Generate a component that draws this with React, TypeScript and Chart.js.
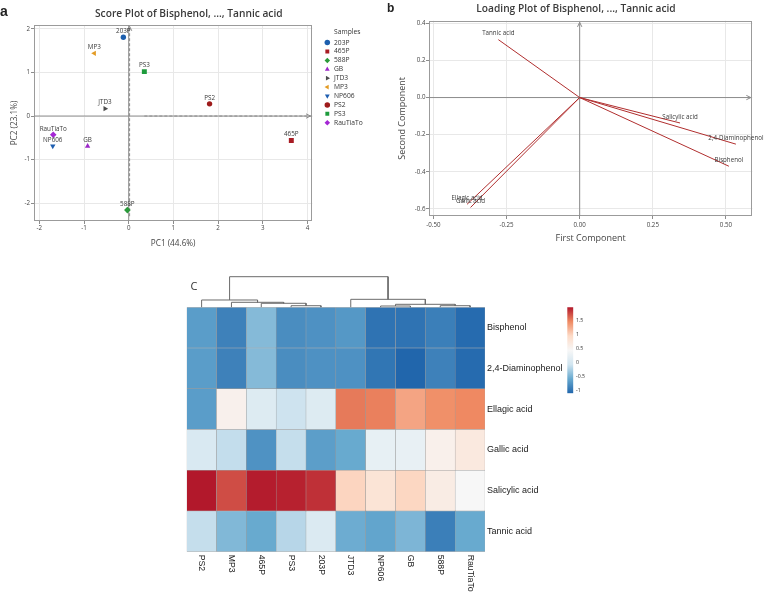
import React, { useEffect, useRef } from 'react';
import { Chart, registerables } from 'chart.js';

Chart.register(...registerables);

const SANS = "'Open Sans', 'Noto Sans', sans-serif";
const ARIAL = "'Liberation Sans', Arial, sans-serif";

// ---------- Panel a: score plot ----------
const sampleNames = ['203P', '465P', '588P', 'GB', 'JTD3', 'MP3', 'NP606', 'PS2', 'PS3', 'RauTiaTo'];
const pc1Scores = [-0.12, 3.64, -0.03, -0.92, -0.53, -0.77, -1.7, 1.81, 0.35, -1.69];
const pc2Scores = [1.81, -0.56, -2.16, -0.69, 0.17, 1.44, -0.69, 0.28, 1.02, -0.43];
const scoreXTicks = [-2, -1, 0, 1, 2, 3, 4];
const scoreYTicks = [-2, -1, 0, 1, 2];
const scoreXLimits = [-2.12, 4.11];
const scoreYLimits = [-2.41, 2.09];
const scorePC1Arrow = [0.35, 4.07];
const scorePC2Arrow = [-2.3, 2.06];

const sampleColors = ['#1d5fae', '#a81c24', '#2a9a3a', '#9c27c8', '#4d4d4d', '#e39b24', '#1e5eb0', '#9e1b1b', '#1e9b3c', '#a426d4'];
const sampleShapes = ['circle', 'rect', 'rectRot', 'triangle', 'triangle', 'triangle', 'triangle', 'circle', 'rect', 'rectRot'];
const sampleRotations = [0, 0, 0, 0, 90, -90, 180, 0, 0, 0];
const shapeRadius: Record<string, number> = { circle: 2.7, rect: 3.5, rectRot: 3.3, triangle: 3.1 };

// ---------- Panel b: loading plot ----------
const variableNames = ['Bisphenol', '2,4-Diaminophenol', 'Ellagic acid', 'Gallic acid', 'Salicylic acid', 'Tannic acid'];
const pc1Loadings = [0.51, 0.534, -0.385, -0.373, 0.343, -0.278];
const pc2Loadings = [-0.37, -0.251, -0.575, -0.592, -0.137, 0.312];
const loadXTicks = [-0.5, -0.25, 0, 0.25, 0.5];
const loadYTicks = [-0.6, -0.4, -0.2, 0, 0.2, 0.4];
const loadXLimits = [-0.515, 0.59];
const loadYLimits = [-0.638, 0.414];
const loadAxisArrowX = [-0.515, 0.585];
const loadAxisArrowY = [-0.638, 0.405];

// ---------- Panel c: heatmap ----------
const heatColumns = ['PS2', 'MP3', '465P', 'PS3', '203P', 'JTD3', 'NP606', 'GB', '588P', 'RauTiaTo'];
const heatRows = ['Bisphenol', '2,4-Diaminophenol', 'Ellagic acid', 'Gallic acid', 'Salicylic acid', 'Tannic acid'];
const bisphenolZ = [-0.67, -0.88, -0.43, -0.79, -0.76, -0.71, -0.99, -0.99, -0.9, -1.05];
const diaminophenolZ = [-0.67, -0.88, -0.43, -0.79, -0.76, -0.76, -0.97, -1.09, -0.88, -1.05];
const ellagicZ = [-0.67, 0.57, 0.1, -0.08, 0.1, 1.55, 1.52, 1.31, 1.44, 1.48];
const gallicZ = [0.05, -0.13, -0.75, -0.12, -0.66, -0.57, 0.24, 0.25, 0.58, 0.71];
const salicylicZ = [1.99, 1.75, 1.97, 1.95, 1.88, 1.0, 0.8, 0.99, 0.65, 0.45];
const tannicZ = [-0.12, -0.45, -0.57, -0.19, 0.07, -0.55, -0.61, -0.47, -0.9, -0.57];
const heatValues = [bisphenolZ, diaminophenolZ, ellagicZ, gallicZ, salicylicZ, tannicZ];
const colorLimits = [-1.09, 1.99];
const colorbarTicks = [-1, -0.5, 0, 0.5, 1, 1.5];
const heatPalette = ['#2166ac', '#67a9cf', '#d1e5f0', '#f7f7f7', '#fddbc7', '#ef8a62', '#b2182b'];

// dendrogram merges: [left, right, height]; negative = leaf (1-based column), positive = earlier merge
const dendroMerges = [
  [-4, -5, 0.52],
  [-3, 1, 1.31],
  [-2, 2, 1.63],
  [-1, 3, 2.39],
  [-7, -8, 0.42],
  [-9, -10, 0.52],
  [5, 6, 0.98],
  [-6, 7, 2.61],
  [4, 8, 10.0],
];
const dendroTop = 10.0;

// ---------- helpers ----------
const hexToRgb = (h: string) => [parseInt(h.slice(1, 3), 16), parseInt(h.slice(3, 5), 16), parseInt(h.slice(5, 7), 16)];
function heatColor(v: number) {
  const t = Math.min(1, Math.max(0, (v - colorLimits[0]) / (colorLimits[1] - colorLimits[0])));
  const s = t * (heatPalette.length - 1);
  const i = Math.min(heatPalette.length - 2, Math.floor(s));
  const f = s - i;
  const a = hexToRgb(heatPalette[i]);
  const b = hexToRgb(heatPalette[i + 1]);
  const c = a.map((x, k) => Math.round(x + (b[k] - x) * f));
  return `rgb(${c[0]},${c[1]},${c[2]})`;
}

const framePlugin = {
  id: 'frame',
  beforeDatasetsDraw(chart: any) {
    const { ctx, chartArea: a } = chart;
    ctx.save();
    ctx.strokeStyle = '#9b9b9b';
    ctx.lineWidth = 1;
    ctx.strokeRect(Math.round(a.left) + 0.5, Math.round(a.top) + 0.5, Math.round(a.right - a.left) - 1, Math.round(a.bottom - a.top) - 1);
    ctx.restore();
  },
};

const arrowPlugin = {
  id: 'arrowHeads',
  afterDatasetsDraw(chart: any) {
    const ctx = chart.ctx;
    chart.data.datasets.forEach((ds: any, i: number) => {
      if (!ds.arrowHead) return;
      const pts = chart.getDatasetMeta(i).data;
      const p1 = pts[pts.length - 1];
      const p0 = pts[pts.length - 2];
      const ang = Math.atan2(p1.y - p0.y, p1.x - p0.x);
      const len = 5;
      ctx.save();
      ctx.strokeStyle = ds.borderColor;
      ctx.lineWidth = 1;
      ctx.beginPath();
      ctx.moveTo(p1.x - len * Math.cos(ang - 0.45), p1.y - len * Math.sin(ang - 0.45));
      ctx.lineTo(p1.x, p1.y);
      ctx.lineTo(p1.x - len * Math.cos(ang + 0.45), p1.y - len * Math.sin(ang + 0.45));
      ctx.stroke();
      ctx.restore();
    });
  },
};

const markLabelPlugin = {
  id: 'markLabels',
  afterDatasetsDraw(chart: any) {
    const ctx = chart.ctx;
    chart.data.datasets.forEach((ds: any, i: number) => {
      if (!ds.markLabel) return;
      const pts = chart.getDatasetMeta(i).data;
      const el = pts[pts.length - 1];
      ctx.save();
      ctx.font = ds.markLabelFont;
      ctx.fillStyle = '#3a3a3a';
      ctx.textAlign = 'center';
      ctx.textBaseline = 'middle';
      ctx.fillText(ds.markLabel, el.x, el.y + ds.markLabelDy);
      ctx.restore();
    });
  },
};

const colLabelPlugin = {
  id: 'colLabels',
  afterDraw(chart: any) {
    const { ctx, chartArea } = chart;
    const xs = chart.scales.x;
    ctx.save();
    ctx.font = `8.7px ${ARIAL}`;
    ctx.fillStyle = '#222';
    ctx.textAlign = 'left';
    ctx.textBaseline = 'middle';
    chart.data.labels.forEach((lab: string, i: number) => {
      ctx.save();
      ctx.translate(xs.getPixelForValue(i), chartArea.bottom + 3);
      ctx.rotate(Math.PI / 2);
      ctx.fillText(lab, 0, 0);
      ctx.restore();
    });
    ctx.restore();
  },
};

function numAxis(o: any) {
  return {
    type: 'linear',
    position: o.position,
    min: o.limits[0],
    max: o.limits[1],
    afterBuildTicks: (ax: any) => {
      ax.ticks = o.ticks.map((v: number) => ({ value: v }));
    },
    afterFit: o.afterFit,
    ticks: { font: { size: 6.2, family: SANS }, color: '#444', padding: o.tickPad, callback: o.fmt, autoSkip: false, maxRotation: 0 },
    grid: { color: '#e8e8e8', lineWidth: 1, tickColor: '#8c8c8c', tickLength: 3 },
    border: { display: false },
    title: { display: true, text: o.title, color: '#454545', font: { size: o.titleSize, family: SANS }, padding: o.titlePad },
  };
}

function guide(data: any[], color: string, dash: number[], arrow: boolean) {
  return { label: '', data, showLine: true, borderColor: color, borderWidth: 1, borderDash: dash, pointRadius: 0, arrowHead: arrow };
}

function scoreConfig(): any {
  const samples = sampleNames.map((name, i) => ({
    label: name,
    data: [{ x: pc1Scores[i], y: pc2Scores[i] }],
    pointStyle: sampleShapes[i],
    pointRotation: sampleRotations[i],
    pointRadius: shapeRadius[sampleShapes[i]],
    backgroundColor: sampleColors[i],
    borderColor: sampleColors[i],
    borderWidth: 0,
    markLabel: name,
    markLabelDy: -6,
    markLabelFont: `6.3px ${SANS}`,
  }));
  return {
    type: 'scatter',
    data: {
      datasets: [
        ...samples,
        guide([{ x: scoreXLimits[0], y: 0 }, { x: scoreXLimits[1], y: 0 }], '#8f8f8f', [], false),
        guide([{ x: 0, y: scoreYLimits[0] }, { x: 0, y: scoreYLimits[1] }], '#8f8f8f', [], false),
        guide([{ x: scorePC1Arrow[0], y: 0 }, { x: scorePC1Arrow[1], y: 0 }], '#8a8a8a', [3, 2], true),
        guide([{ x: 0.02, y: scorePC2Arrow[0] }, { x: 0.02, y: scorePC2Arrow[1] }], '#8a8a8a', [3, 2], true),
      ],
    },
    options: {
      responsive: false,
      animation: false,
      events: [],
      layout: { padding: { top: 25, right: 12.25, left: 0, bottom: 0 } },
      plugins: {
        tooltip: { enabled: false },
        legend: {
          display: true,
          position: 'right',
          align: 'start',
          title: { display: true, text: 'Samples', color: '#333', font: { size: 6.7, family: SANS }, padding: { top: 4, bottom: 0 } },
          labels: {
            usePointStyle: true,
            boxWidth: 6.7,
            boxHeight: 3.9,
            padding: 2.2,
            color: '#333',
            font: { size: 6.7, family: SANS },
            filter: (item: any) => item.datasetIndex < sampleNames.length,
          },
        },
      },
      scales: {
        x: numAxis({ position: 'bottom', limits: scoreXLimits, ticks: scoreXTicks, fmt: (v: any) => String(v), tickPad: 1, title: 'PC1 (44.6%)', titleSize: 8.2, titlePad: { top: 0, bottom: 3 }, afterFit: (s: any) => { s.height = 31; } }),
        y: numAxis({ position: 'left', limits: scoreYLimits, ticks: scoreYTicks, fmt: (v: any) => String(v), tickPad: 1, title: 'PC2 (23.1%)', titleSize: 8.2, titlePad: { top: 10, bottom: 0 }, afterFit: (s: any) => { s.width = 34; } }),
        y2: {
          type: 'linear',
          position: 'right',
          display: true,
          grid: { display: false, drawTicks: false },
          border: { display: false },
          ticks: { display: false },
          afterFit: (s: any) => { s.width = 9.45; s.paddingTop = 0; s.paddingBottom = 0; },
        },
      },
    },
    plugins: [framePlugin, arrowPlugin, markLabelPlugin],
  };
}

function loadingConfig(): any {
  const vars = variableNames.map((name, i) => ({
    label: name,
    data: [{ x: 0, y: 0 }, { x: pc1Loadings[i], y: pc2Loadings[i] }],
    showLine: true,
    borderColor: '#b02e2e',
    borderWidth: 1,
    pointRadius: 0,
    markLabel: name,
    markLabelDy: -6,
    markLabelFont: `6.2px ${SANS}`,
  }));
  return {
    type: 'scatter',
    data: {
      datasets: [
        ...vars,
        guide([{ x: loadAxisArrowX[0], y: 0 }, { x: loadAxisArrowX[1], y: 0 }], '#8c8c8c', [], true),
        guide([{ x: 0, y: loadAxisArrowY[0] }, { x: 0, y: loadAxisArrowY[1] }], '#8c8c8c', [], true),
      ],
    },
    options: {
      responsive: false,
      animation: false,
      events: [],
      layout: { padding: { top: 20.7, right: 12.7, left: 0, bottom: 0 } },
      plugins: { tooltip: { enabled: false }, legend: { display: false } },
      scales: {
        x: numAxis({ position: 'bottom', limits: loadXLimits, ticks: loadXTicks, fmt: (v: any) => Number(v).toFixed(2), tickPad: 2.5, title: 'First Component', titleSize: 9, titlePad: { top: 0, bottom: 7.7 }, afterFit: (s: any) => { s.height = 36; } }),
        y: numAxis({ position: 'left', limits: loadYLimits, ticks: loadYTicks, fmt: (v: any) => Number(v).toFixed(1), tickPad: 0.5, title: 'Second Component', titleSize: 9, titlePad: { top: 17, bottom: 0 }, afterFit: (s: any) => { s.width = 49; } }),
      },
    },
    plugins: [framePlugin, arrowPlugin, markLabelPlugin],
  };
}

function heatmapConfig(): any {
  const datasets = heatRows
    .map((row, r) => ({
      label: row,
      data: heatColumns.map(() => 1),
      backgroundColor: heatValues[r].map((v) => heatColor(v)),
      borderColor: 'rgba(150,150,150,0.9)',
      borderWidth: 0.5,
      borderSkipped: false,
      barPercentage: 1,
      categoryPercentage: 1,
    }))
    .reverse();
  return {
    type: 'bar',
    data: { labels: heatColumns, datasets },
    options: {
      responsive: false,
      animation: false,
      events: [],
      layout: { padding: { top: 7.3, left: 6.7, right: 0, bottom: 41.3 } },
      plugins: { tooltip: { enabled: false }, legend: { display: false } },
      scales: {
        x: { type: 'category', stacked: true, display: false },
        y: {
          type: 'linear',
          stacked: true,
          position: 'right',
          min: 0,
          max: heatRows.length,
          afterBuildTicks: (ax: any) => {
            ax.ticks = heatRows.map((_, i) => ({ value: i + 0.5 }));
          },
          afterFit: (s: any) => { s.width = 85; s.paddingTop = 0; s.paddingBottom = 0; },
          ticks: {
            autoSkip: false,
            padding: 2,
            color: '#222',
            font: { size: 9, family: ARIAL },
            callback: (_v: any, i: number) => heatRows[heatRows.length - 1 - i],
          },
          grid: { display: false, drawTicks: false },
          border: { display: false },
        },
      },
    },
    plugins: [colLabelPlugin],
  };
}

function dendroConfig(): any {
  const pos: { x: number; h: number }[] = [];
  const child = (id: number) => (id < 0 ? { x: -id - 0.5, h: 0 } : pos[id - 1]);
  const datasets = dendroMerges.map(([a, b, h]) => {
    const pa = child(a);
    const pb = child(b);
    pos.push({ x: (pa.x + pb.x) / 2, h });
    return {
      data: [
        { x: pa.x, y: pa.h },
        { x: pa.x, y: h },
        { x: pb.x, y: h },
        { x: pb.x, y: pb.h },
      ],
      showLine: true,
      borderColor: '#6b6b6b',
      borderWidth: 1,
      pointRadius: 0,
      clip: false,
    };
  });
  return {
    type: 'scatter',
    data: { datasets },
    options: {
      responsive: false,
      animation: false,
      events: [],
      layout: { padding: { top: 6.7, left: 6.7, right: 85, bottom: 0.7 } },
      plugins: { tooltip: { enabled: false }, legend: { display: false } },
      scales: {
        x: { type: 'linear', min: 0, max: heatColumns.length, display: false },
        y: { type: 'linear', min: 0, max: dendroTop, display: false },
      },
    },
  };
}

function colorbarConfig(): any {
  return {
    type: 'bar',
    data: {
      labels: [''],
      datasets: [
        {
          data: [colorLimits],
          barPercentage: 1,
          categoryPercentage: 1,
          borderWidth: 0,
          backgroundColor: (c: any) => {
            const ch = c.chart;
            const y = ch.scales && ch.scales.y;
            if (!ch.chartArea || !y) return heatPalette[0];
            const g = ch.ctx.createLinearGradient(0, y.getPixelForValue(colorLimits[0]), 0, y.getPixelForValue(colorLimits[1]));
            heatPalette.forEach((col, i) => g.addColorStop(i / (heatPalette.length - 1), col));
            return g;
          },
        },
      ],
    },
    options: {
      responsive: false,
      animation: false,
      events: [],
      layout: { padding: { top: 7.3, left: 7.3, right: 0, bottom: 6.7 } },
      plugins: { tooltip: { enabled: false }, legend: { display: false } },
      scales: {
        x: { display: false },
        y: {
          type: 'linear',
          position: 'right',
          min: colorLimits[0],
          max: colorLimits[1],
          afterBuildTicks: (ax: any) => {
            ax.ticks = colorbarTicks.map((v) => ({ value: v }));
          },
          afterFit: (s: any) => { s.width = 26.7; s.paddingTop = 0; s.paddingBottom = 0; },
          ticks: { autoSkip: false, padding: 2.7, color: '#333', font: { size: 5.2, family: SANS }, callback: (v: any) => String(v) },
          grid: { display: false, drawTicks: false },
          border: { display: false },
        },
      },
    },
  };
}

function ChartCanvas({ make, left, top, width, height }: { make: () => any; left: number; top: number; width: number; height: number }) {
  const ref = useRef<HTMLCanvasElement>(null);
  useEffect(() => {
    const chart = new Chart(ref.current as HTMLCanvasElement, make());
    return () => chart.destroy();
  }, []);
  return <canvas ref={ref} width={width} height={height} style={{ position: 'absolute', left, top, width, height }} />;
}

const textBase: React.CSSProperties = { position: 'absolute', whiteSpace: 'nowrap', margin: 0 };

export default function App() {
  return (
    <div style={{ position: 'absolute', left: 0, top: 0, width: 765, height: 593, background: '#fff', overflow: 'hidden' }}>
      <ChartCanvas make={scoreConfig} left={0} top={0} width={385} height={252} />
      <ChartCanvas make={loadingConfig} left={380} top={0} width={385} height={252} />
      <ChartCanvas make={dendroConfig} left={180} top={270} width={390} height={38} />
      <ChartCanvas make={heatmapConfig} left={180} top={300} width={390} height={293} />
      <ChartCanvas make={colorbarConfig} left={560} top={300} width={40} height={100} />

      <div style={{ ...textBase, left: 0, top: 7.4, width: 377.6, textAlign: 'center', font: `600 10.2px/12px ${SANS}`, color: '#3a3a3a' }}>
        Score Plot of Bisphenol, ..., Tannic acid
      </div>
      <div style={{ ...textBase, left: 380, top: 2, width: 392, textAlign: 'center', font: `600 10.2px/12px ${SANS}`, color: '#3a3a3a' }}>
        Loading Plot of Bisphenol, ..., Tannic acid
      </div>
      <div style={{ ...textBase, left: 0, top: 4, font: `bold 14px/14px ${ARIAL}`, color: '#222' }}>a</div>
      <div style={{ ...textBase, left: 387, top: 1.5, font: `bold 12px/12px ${ARIAL}`, color: '#222' }}>b</div>
      <div style={{ ...textBase, left: 190.5, top: 279.5, font: `11px/11px ${SANS}`, color: '#333' }}>C</div>
    </div>
  );
}
